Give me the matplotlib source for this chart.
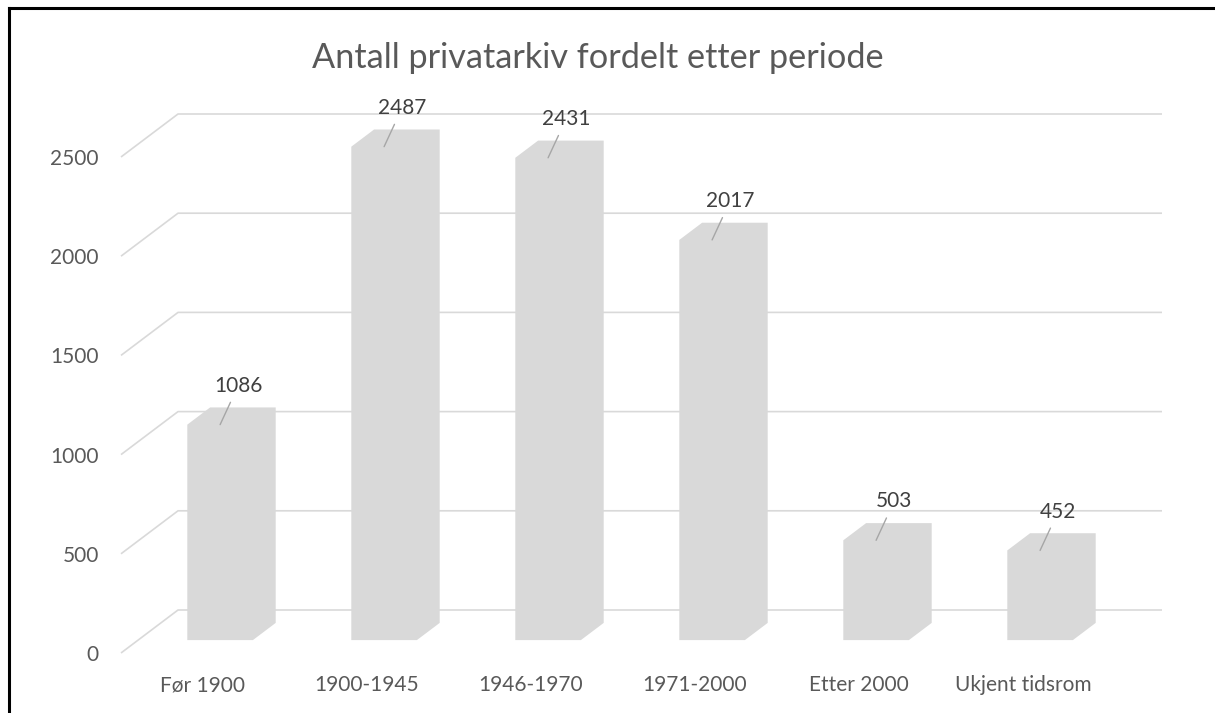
import matplotlib.pyplot as plt
from matplotlib.patches import Polygon
from matplotlib.lines import Line2D

categories = ['Før 1900', '1900-1945', '1946-1970', '1971-2000', 'Etter 2000', 'Ukjent tidsrom']
counts = [1086, 2487, 2431, 2017, 503, 452]
y_ticks = [0, 500, 1000, 1500, 2000, 2500]

title = 'Antall privatarkiv fordelt etter periode'

# fake 3D: depth vector of the floor (in category units / value units)
DX = 0.3476
DY = 216.7
DEPTH_FRONT, DEPTH_BACK = 0.3, 0.7
BAR_W = 0.4

plt.rcParams['font.family'] = ['Lato', 'DejaVu Sans']

fig = plt.figure(figsize=(12.15, 7.13), dpi=100)
W, H = 1215, 713
ax = fig.add_axes([121 / W, 1 - 653 / H, (1162 - 121) / W, (653 - 114) / H])
n = len(categories)
ax.set_xlim(0, n + DX)
ax.set_ylim(0, y_ticks[-1] + DY)
for s in ax.spines.values():
    s.set_visible(False)

# back wall gridlines with the diagonal down to the front plane
for v in y_ticks:
    ax.plot([0, DX, n + DX], [v, v + DY, v + DY], color='#d9d9d9', lw=1.2,
            zorder=1, clip_on=False, solid_capstyle='butt')

# bars: front face + side seen from above-right, same colour
for i, h in enumerate(counts):
    xl = i + 0.5 - BAR_W / 2 + DEPTH_FRONT * DX
    xr = xl + BAR_W
    y0 = DEPTH_FRONT * DY
    ddx = (DEPTH_BACK - DEPTH_FRONT) * DX
    ddy = (DEPTH_BACK - DEPTH_FRONT) * DY
    pts = [(xl, y0), (xr, y0), (xr + ddx, y0 + ddy), (xr + ddx, y0 + ddy + h),
           (xl + ddx, y0 + ddy + h), (xl, y0 + h)]
    ax.add_patch(Polygon(pts, closed=True, facecolor='#d9d9d9', edgecolor='none', zorder=2))
    ax.annotate(str(h), xy=((xl + xr) / 2, y0 + h), xytext=(13, 28), textcoords='offset points',
                ha='center', va='center', fontsize=15, color='#404040', zorder=3,
                arrowprops=dict(arrowstyle='-', color='#a6a6a6', lw=1.0, shrinkA=3, shrinkB=0))

ax.set_yticks(y_ticks)
ax.set_yticklabels([str(v) for v in y_ticks])
ax.set_xticks([i + 0.5 for i in range(n)])
ax.set_xticklabels(categories)
ax.tick_params(axis='y', length=0, pad=16, labelsize=15, labelcolor='#595959')
ax.tick_params(axis='x', length=0, pad=16, labelsize=15, labelcolor='#595959')

fig.text(598 / W, 1 - 68 / H, title, ha='center', va='baseline', fontsize=24.7, color='#595959')

# outer frame (left and top only)
fig.add_artist(Line2D([9 / W, 9 / W], [0, 1 - 8 / H], color='black', lw=2.2,
                      transform=fig.transFigure))
fig.add_artist(Line2D([9 / W, 1], [1 - 8 / H, 1 - 8 / H], color='black', lw=2.2,
                      transform=fig.transFigure))

fig.savefig('out.png', dpi=100, facecolor='white')
